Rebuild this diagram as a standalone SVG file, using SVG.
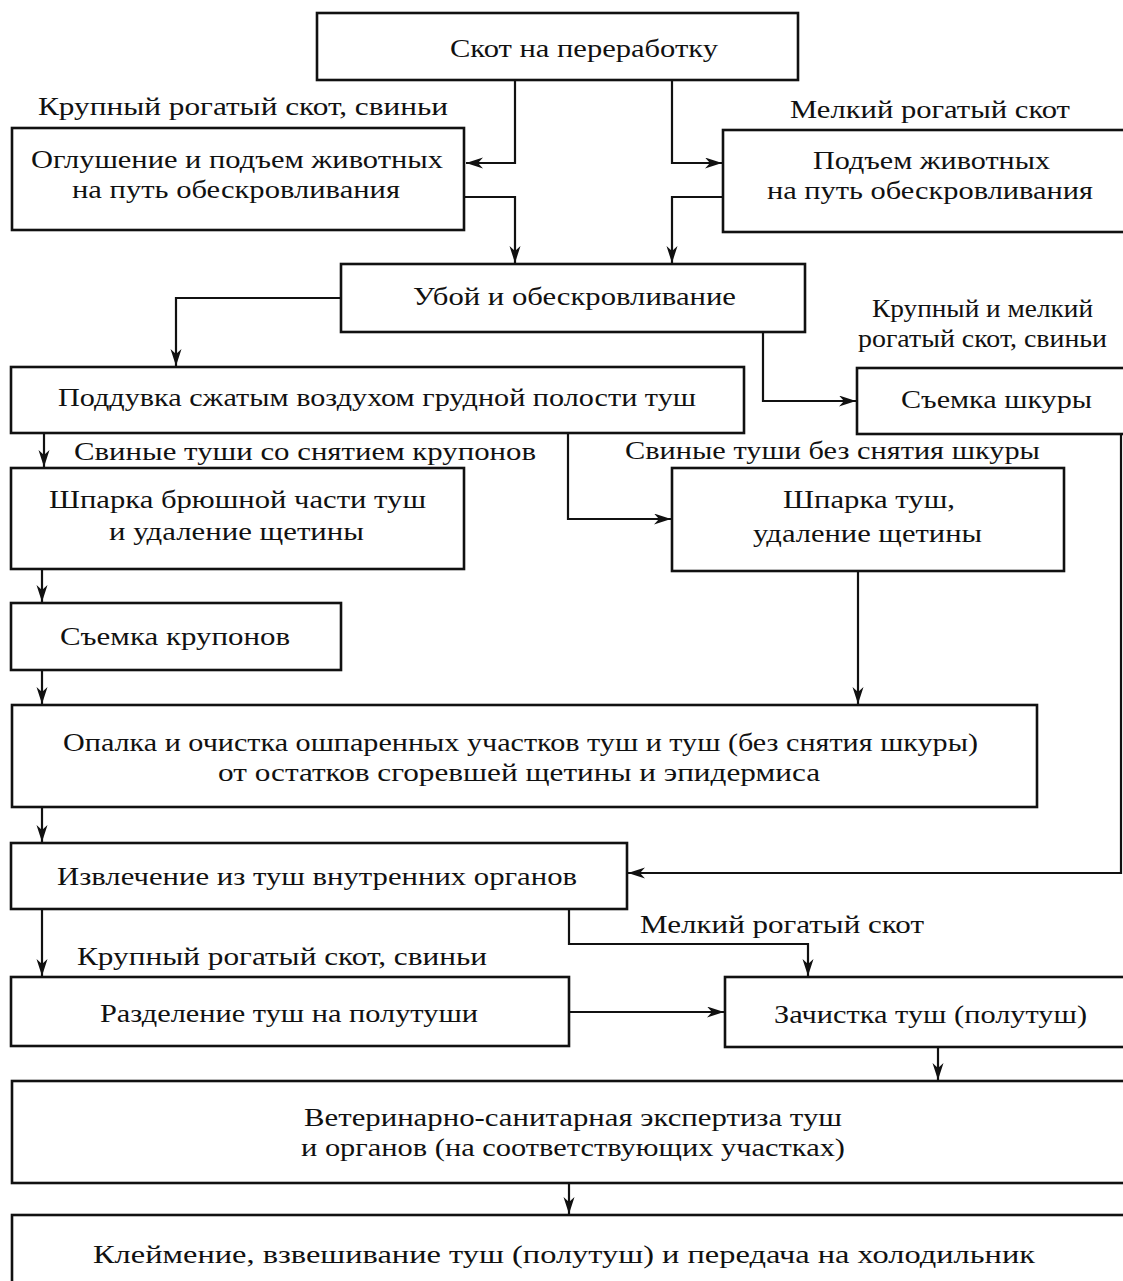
<svg xmlns="http://www.w3.org/2000/svg" width="1123" height="1281" viewBox="0 0 1123 1281">
<style>
.box{fill:#fff;stroke:#111;stroke-width:2.6}
.t{font-family:"Liberation Serif","Times New Roman",serif;font-size:26px;fill:#111}
.c{fill:none;stroke:#111;stroke-width:2.2}
</style>
<defs>
<marker id="ah" markerUnits="userSpaceOnUse" markerWidth="20" markerHeight="12" refX="17" refY="5.5" orient="auto">
<path d="M0,0 L17,5.5 L0,11 L5,5.5 Z" fill="#111"/>
</marker>
</defs>
<rect width="1123" height="1281" fill="#fff"/>
<g id="connectors">
<path class="c" d="M515,80 V163 H466" marker-end="url(#ah)"/>
<path class="c" d="M672,80 V163 H722" marker-end="url(#ah)"/>
<path class="c" d="M464,197 H515 V263" marker-end="url(#ah)"/>
<path class="c" d="M723,197 H672 V263" marker-end="url(#ah)"/>
<path class="c" d="M341,298 H176 V366" marker-end="url(#ah)"/>
<path class="c" d="M763,332 V401 H856" marker-end="url(#ah)"/>
<path class="c" d="M44,433 V467" marker-end="url(#ah)"/>
<path class="c" d="M568,433 V519 H671" marker-end="url(#ah)"/>
<path class="c" d="M42,569 V602" marker-end="url(#ah)"/>
<path class="c" d="M42,670 V704" marker-end="url(#ah)"/>
<path class="c" d="M858,571 V704" marker-end="url(#ah)"/>
<path class="c" d="M1121,434 V873 H628" marker-end="url(#ah)"/>
<path class="c" d="M42,807 V842" marker-end="url(#ah)"/>
<path class="c" d="M42,909 V976" marker-end="url(#ah)"/>
<path class="c" d="M569,909 V944 H808 V976" marker-end="url(#ah)"/>
<path class="c" d="M569,1012 H724" marker-end="url(#ah)"/>
<path class="c" d="M938,1047 V1080" marker-end="url(#ah)"/>
<path class="c" d="M569,1183 V1214" marker-end="url(#ah)"/>
</g>
<g id="labels">
<text class="t" x="38" y="115" textLength="410" lengthAdjust="spacingAndGlyphs">Крупный рогатый скот, свиньи</text>
<text class="t" x="790" y="118" textLength="280" lengthAdjust="spacingAndGlyphs">Мелкий рогатый скот</text>
<text class="t" x="872" y="317" textLength="221" lengthAdjust="spacingAndGlyphs">Крупный и мелкий</text>
<text class="t" x="858" y="347" textLength="249" lengthAdjust="spacingAndGlyphs">рогатый скот, свиньи</text>
<text class="t" x="74" y="460" textLength="462" lengthAdjust="spacingAndGlyphs">Свиные туши со снятием крупонов</text>
<text class="t" x="625" y="459" textLength="415" lengthAdjust="spacingAndGlyphs">Свиные туши без снятия шкуры</text>
<text class="t" x="640" y="933" textLength="284" lengthAdjust="spacingAndGlyphs">Мелкий рогатый скот</text>
<text class="t" x="77" y="965" textLength="410" lengthAdjust="spacingAndGlyphs">Крупный рогатый скот, свиньи</text>
</g>
<g id="n1"><rect class="box" x="317" y="13" width="481" height="67"/>
<text class="t" x="450" y="57" textLength="268" lengthAdjust="spacingAndGlyphs">Скот на переработку</text></g>
<g id="n2"><rect class="box" x="12" y="128" width="452" height="102"/>
<text class="t" x="31" y="168" textLength="412" lengthAdjust="spacingAndGlyphs">Оглушение и подъем животных</text>
<text class="t" x="72" y="198" textLength="328" lengthAdjust="spacingAndGlyphs">на путь обескровливания</text></g>
<g id="n3"><rect class="box" x="723" y="130" width="420" height="102"/>
<text class="t" x="813" y="169" textLength="237" lengthAdjust="spacingAndGlyphs">Подъем животных</text>
<text class="t" x="767" y="199" textLength="326" lengthAdjust="spacingAndGlyphs">на путь обескровливания</text></g>
<g id="n4"><rect class="box" x="341" y="264" width="464" height="68"/>
<text class="t" x="413" y="305" textLength="323" lengthAdjust="spacingAndGlyphs">Убой и обескровливание</text></g>
<g id="n5"><rect class="box" x="11" y="367" width="733" height="66"/>
<text class="t" x="58" y="406" textLength="638" lengthAdjust="spacingAndGlyphs">Поддувка сжатым воздухом грудной полости туш</text></g>
<g id="n6"><rect class="box" x="857" y="368" width="286" height="66"/>
<text class="t" x="901" y="408" textLength="191" lengthAdjust="spacingAndGlyphs">Съемка шкуры</text></g>
<g id="n7"><rect class="box" x="11" y="468" width="453" height="101"/>
<text class="t" x="49" y="508" textLength="377" lengthAdjust="spacingAndGlyphs">Шпарка брюшной части туш</text>
<text class="t" x="109" y="540" textLength="255" lengthAdjust="spacingAndGlyphs">и удаление щетины</text></g>
<g id="n8"><rect class="box" x="672" y="468" width="392" height="103"/>
<text class="t" x="783" y="508" textLength="172" lengthAdjust="spacingAndGlyphs">Шпарка туш,</text>
<text class="t" x="753" y="542" textLength="229" lengthAdjust="spacingAndGlyphs">удаление щетины</text></g>
<g id="n9"><rect class="box" x="11" y="603" width="330" height="67"/>
<text class="t" x="60" y="645" textLength="230" lengthAdjust="spacingAndGlyphs">Съемка крупонов</text></g>
<g id="n10"><rect class="box" x="12" y="705" width="1025" height="102"/>
<text class="t" x="63" y="751" textLength="915" lengthAdjust="spacingAndGlyphs">Опалка и очистка ошпаренных участков туш и туш (без снятия шкуры)</text>
<text class="t" x="218" y="781" textLength="602" lengthAdjust="spacingAndGlyphs">от остатков сгоревшей щетины и эпидермиса</text></g>
<g id="n11"><rect class="box" x="11" y="843" width="616" height="66"/>
<text class="t" x="57" y="885" textLength="520" lengthAdjust="spacingAndGlyphs">Извлечение из туш внутренних органов</text></g>
<g id="n12"><rect class="box" x="11" y="977" width="558" height="69"/>
<text class="t" x="100" y="1022" textLength="378" lengthAdjust="spacingAndGlyphs">Разделение туш на полутуши</text></g>
<g id="n13"><rect class="box" x="725" y="977" width="420" height="70"/>
<text class="t" x="774" y="1023" textLength="313" lengthAdjust="spacingAndGlyphs">Зачистка туш (полутуш)</text></g>
<g id="n14"><rect class="box" x="12" y="1081" width="1130" height="102"/>
<text class="t" x="304" y="1126" textLength="538" lengthAdjust="spacingAndGlyphs">Ветеринарно-санитарная экспертиза туш</text>
<text class="t" x="301" y="1156" textLength="544" lengthAdjust="spacingAndGlyphs">и органов (на соответствующих участках)</text></g>
<g id="n15"><rect class="box" x="12" y="1215" width="1130" height="80"/>
<text class="t" x="93" y="1263" textLength="942" lengthAdjust="spacingAndGlyphs">Клеймение, взвешивание туш (полутуш) и передача на холодильник</text></g>
</svg>
